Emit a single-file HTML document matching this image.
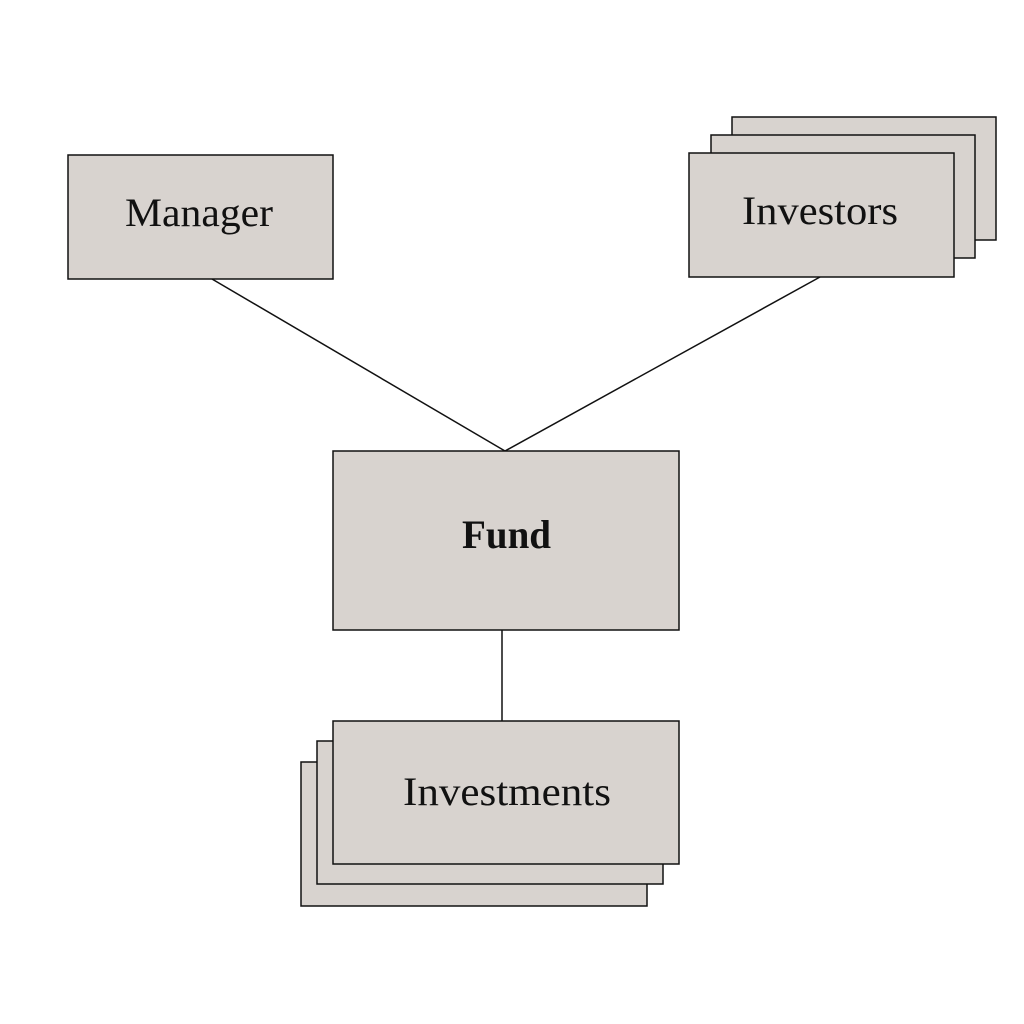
<!DOCTYPE html>
<html><head><meta charset="utf-8"><style>
html,body{margin:0;padding:0;background:#fff;}
svg{display:block;}
text{font-family:"Liberation Serif",serif;font-size:40px;fill:#111;}
</style></head><body>
<svg width="1024" height="1024" viewBox="0 0 1024 1024" xmlns="http://www.w3.org/2000/svg">
<g fill="#d8d3cf" stroke="#111" stroke-width="1.5">
<line x1="212" y1="279" x2="505" y2="451"/>
<line x1="820" y1="277" x2="505" y2="451"/>
<line x1="502" y1="630" x2="502" y2="721"/>
<rect x="68" y="155" width="265" height="124"/>
<rect x="732" y="117" width="264" height="123"/>
<rect x="711" y="135" width="264" height="123"/>
<rect x="689" y="153" width="265" height="124"/>
<rect x="333" y="451" width="346" height="179"/>
<rect x="301" y="762" width="346" height="144"/>
<rect x="317" y="741" width="346" height="143"/>
<rect x="333" y="721" width="346" height="143"/>
</g>
<text x="125" y="226" textLength="148" lengthAdjust="spacingAndGlyphs">Manager</text>
<text x="742" y="224" textLength="156" lengthAdjust="spacingAndGlyphs">Investors</text>
<text x="462" y="548" textLength="89" lengthAdjust="spacingAndGlyphs" font-weight="bold" font-size="38">Fund</text>
<text x="403" y="805" textLength="208" lengthAdjust="spacingAndGlyphs">Investments</text>
</svg>
</body></html>
